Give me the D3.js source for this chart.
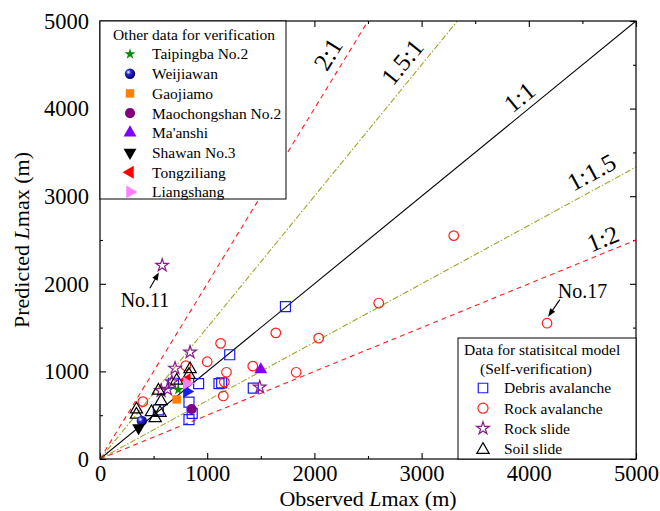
<!DOCTYPE html>
<html>
<head>
<meta charset="utf-8">
<script src="https://cdn.jsdelivr.net/npm/d3@7"></script>
<style>
  body { margin: 0; background: #fff; }
  svg { font-family: "Liberation Serif", "Times New Roman", serif; }
</style>
</head>
<body>
<svg id="chart"></svg>
<script>
// Statistical model data (self-verification), [observed, predicted] in m
const debrisAvalanche = [[1730,1740],[1210,1190],[920,860],[1110,860],[1135,870],[1430,810],
                         [830,650],[860,520],[830,450],[685,865],[545,560]];
const rockAvalanche = [[3300,2550],[2600,1780],[4170,1550],[1640,1440],[2040,1380],[1125,1320],
                       [1000,1110],[1425,1060],[1180,990],[1830,990],[1160,880],[1150,720],
                       [800,1065],[400,655]];
const rockSlide = [[580,2210],[840,1220],[1490,820],[700,1035],[670,880],[630,795],[570,780]];
const soilSlide = [[840,1040],[830,975],[715,910],[545,795],[570,675],[340,580],[340,520],
                   [480,550],[560,540],[515,480]];

// Other data for verification
const otherNames = ["Taipingba No.2","Weijiawan","Gaojiamo","Maochongshan No.2",
                    "Ma'anshi","Shawan No.3","Tongziliang","Liangshang"];
const otherObs  = [730, 390, 715, 855, 1500, 360, 810, 810];
const otherPred = [790, 435, 680, 570, 1020, 355, 905, 865];
const extraBlue = [[810, 770]];

const ratioSlopes = [2, 1.5, 1, 1/1.5, 0.5];
const ratioLabels = ["2:1", "1.5:1", "1:1", "1:1.5", "1:2"];

const axisTicks = [0, 1000, 2000, 3000, 4000, 5000];
const minorTicks = [500, 1500, 2500, 3500, 4500];

const svg = d3.select("#chart").attr("width", 660).attr("height", 511);

const margin = { top: 21, right: 24, bottom: 52, left: 100 },
      width = 660 - margin.left - margin.right,
      height = 511 - margin.top - margin.bottom;

const x = d3.scaleLinear().domain([0, 5000]).range([0, width]);
const y = d3.scaleLinear().domain([0, 5000]).range([height, 0]);

const defs = svg.append("defs");
defs.append("clipPath").attr("id", "plot-clip")
    .append("rect").attr("width", width).attr("height", height);
const grad = defs.append("radialGradient").attr("id", "sphere")
    .attr("cx", "35%").attr("cy", "35%").attr("r", "65%");
grad.append("stop").attr("offset", "0%").attr("stop-color", "#ffffff");
grad.append("stop").attr("offset", "35%").attr("stop-color", "#2a2ad8");
grad.append("stop").attr("offset", "100%").attr("stop-color", "#00006a");

const chart = svg.append("g").attr("transform", `translate(${margin.left},${margin.top})`);

// Axes with inward ticks
function styleAxis(g) {
    g.select(".domain").remove();
    g.selectAll("line").attr("stroke", "#000").attr("stroke-width", 1.1);
    g.selectAll("text").attr("font-size", 22.5).attr("fill", "#000")
        .attr("font-family", "Liberation Serif, Times New Roman, serif");
}

chart.append("g").attr("transform", `translate(0,${height})`)
    .call(d3.axisBottom(x).tickValues(axisTicks).tickSize(-6).tickPadding(6).tickFormat(d3.format("d")))
    .call(styleAxis);
chart.append("g").attr("transform", `translate(0,${height})`)
    .call(d3.axisBottom(x).tickValues(minorTicks).tickSize(-3).tickFormat(""))
    .call(styleAxis);
chart.append("g")
    .call(d3.axisLeft(y).tickValues(axisTicks).tickSize(-6).tickPadding(11).tickFormat(d3.format("d")))
    .call(styleAxis);
chart.append("g")
    .call(d3.axisLeft(y).tickValues(minorTicks).tickSize(-3).tickFormat(""))
    .call(styleAxis);
// mirrored ticks on top and right
chart.append("g").call(d3.axisTop(x).tickValues(axisTicks).tickSize(-6).tickFormat("")).call(styleAxis);
chart.append("g").call(d3.axisTop(x).tickValues(minorTicks).tickSize(-3).tickFormat("")).call(styleAxis);
chart.append("g").attr("transform", `translate(${width},0)`)
    .call(d3.axisRight(y).tickValues(axisTicks).tickSize(-6).tickFormat("")).call(styleAxis);
chart.append("g").attr("transform", `translate(${width},0)`)
    .call(d3.axisRight(y).tickValues(minorTicks).tickSize(-3).tickFormat("")).call(styleAxis);

// Reference ratio lines
const lineStyles = [
    { color: "#ff2020", dash: "5,4" },
    { color: "#a3a326", dash: "6,2,1.5,2" },
    { color: "#000000", dash: null },
    { color: "#a3a326", dash: "6,2,1.5,2" },
    { color: "#ff2020", dash: "5,4" }
];
const lines = chart.append("g").attr("clip-path", "url(#plot-clip)");
ratioSlopes.forEach((k, i) => {
    const xe = Math.min(5000, 5000 / k);
    lines.append("line")
        .attr("x1", x(0)).attr("y1", y(0))
        .attr("x2", x(xe)).attr("y2", y(k * xe))
        .attr("stroke", lineStyles[i].color)
        .attr("stroke-width", 1.1)
        .attr("stroke-dasharray", lineStyles[i].dash);
});

// Ratio labels: placed along each line with a perpendicular offset
const labelAlong = [2260, 2940, 4000, 4660, 4740]; // observed value along the line
const labelOffset = [17, 17, 15, 17, 14];
ratioSlopes.forEach((k, i) => {
    const px = x(labelAlong[i]), py = y(k * labelAlong[i]);
    const ang = Math.atan2(y(k * 1000) - y(0), x(1000) - x(0));
    const ox = Math.sin(ang) * labelOffset[i], oy = -Math.cos(ang) * labelOffset[i];
    chart.append("text")
        .attr("transform", `translate(${px + ox},${py + oy}) rotate(${ang * 180 / Math.PI})`)
        .attr("text-anchor", "middle").attr("dy", "0.35em")
        .attr("font-size", 25).text(ratioLabels[i]);
});

// Statistical data
const sym = (type, size) => d3.symbol().type(type).size(size)();
const pts = chart.append("g");
pts.selectAll(".debris").data(debrisAvalanche).join("path")
    .attr("d", sym(d3.symbolSquare, 100))
    .attr("transform", d => `translate(${x(d[0])},${y(d[1])})`)
    .attr("fill", "none").attr("stroke", "#1a1aff").attr("stroke-width", 1.2);
pts.selectAll(".rockav").data(rockAvalanche).join("circle")
    .attr("cx", d => x(d[0])).attr("cy", d => y(d[1])).attr("r", 4.8)
    .attr("fill", "none").attr("stroke", "#ff2020").attr("stroke-width", 1.2);
pts.selectAll(".rockslide").data(rockSlide).join("path")
    .attr("d", sym(d3.symbolStar, 50))
    .attr("transform", d => `translate(${x(d[0])},${y(d[1])})`)
    .attr("fill", "none").attr("stroke", "#8a1a8a").attr("stroke-width", 1.2);
pts.selectAll(".soil").data(soilSlide).join("path")
    .attr("d", sym(d3.symbolTriangle, 66))
    .attr("transform", d => `translate(${x(d[0])},${y(d[1]) + 1.2})`)
    .attr("fill", "none").attr("stroke", "#000").attr("stroke-width", 1.2);

// Other verification data
const otherStyle = [
    { type: d3.symbolStar, size: 38, fill: "#0a8a0a", rot: 0 },
    { type: d3.symbolCircle, size: 85, fill: "url(#sphere)", rot: 0 },
    { type: d3.symbolSquare, size: 72, fill: "#ff8000", rot: 0 },
    { type: d3.symbolCircle, size: 80, fill: "#800080", rot: 0 },
    { type: d3.symbolTriangle, size: 72, fill: "#8000ff", rot: 0 },
    { type: d3.symbolTriangle, size: 72, fill: "#000000", rot: 180 },
    { type: d3.symbolTriangle, size: 72, fill: "#ff0000", rot: -90 },
    { type: d3.symbolTriangle, size: 72, fill: "#ff80ff", rot: 90 }
];
pts.selectAll(".extra").data(extraBlue).join("path")
    .attr("d", sym(d3.symbolTriangle, 72))
    .attr("transform", d => `translate(${x(d[0])},${y(d[1])}) rotate(90)`)
    .attr("fill", "#1a1aff");
otherNames.forEach((n, i) => {
    const s = otherStyle[i];
    pts.append("path")
        .attr("d", sym(s.type, s.size))
        .attr("transform", `translate(${x(otherObs[i])},${y(otherPred[i])}) rotate(${s.rot})`)
        .attr("fill", s.fill);
});

// Annotations
function arrow(x1, y1, x2, y2) {
    const ang = Math.atan2(y(y2) - y(y1), x(x2) - x(x1));
    const hx = x(x2), hy = y(y2), L = 8, W = 3;
    chart.append("line").attr("x1", x(x1)).attr("y1", y(y1))
        .attr("x2", hx - Math.cos(ang) * L * 0.8).attr("y2", hy - Math.sin(ang) * L * 0.8)
        .attr("stroke", "#000").attr("stroke-width", 1.1);
    chart.append("path").attr("fill", "#000")
        .attr("d", `M${hx},${hy} L${hx - Math.cos(ang) * L - Math.sin(ang) * W},${hy - Math.sin(ang) * L + Math.cos(ang) * W}
                    L${hx - Math.cos(ang) * L + Math.sin(ang) * W},${hy - Math.sin(ang) * L - Math.cos(ang) * W} Z`);
}
chart.append("text").attr("x", x(420)).attr("y", y(1730)).attr("text-anchor", "middle")
    .attr("font-size", 20).text("No.11");
arrow(465, 1950, 550, 2130);
chart.append("text").attr("x", x(4270)).attr("y", y(1840))
    .attr("font-size", 20).text("No.17");
arrow(4290, 1820, 4180, 1625);

// Frame
chart.append("rect").attr("width", width).attr("height", height)
    .attr("fill", "none").attr("stroke", "#000").attr("stroke-width", 1.2);

// Legend: other data
const leg1 = chart.append("g");
leg1.append("rect").attr("x", 0).attr("y", 0).attr("width", 186).attr("height", 178)
    .attr("fill", "#fff").attr("stroke", "#000").attr("stroke-width", 1);
leg1.append("text").attr("x", 94).attr("y", 19).attr("text-anchor", "middle")
    .attr("font-size", 15.5).text("Other data for verification");
otherNames.forEach((n, i) => {
    const s = otherStyle[i], cy = 33 + i * 19.7;
    leg1.append("path")
        .attr("d", sym(s.type, s.size))
        .attr("transform", `translate(30,${cy}) rotate(${s.rot})`)
        .attr("fill", s.fill);
    leg1.append("text").attr("x", 52).attr("y", cy).attr("dy", "0.35em")
        .attr("font-size", 15.5).text(n);
});

// Legend: statistical model
const leg2 = chart.append("g").attr("transform", `translate(${width - 178},${height - 121})`);
leg2.append("rect").attr("width", 178).attr("height", 121)
    .attr("fill", "#fff").attr("stroke", "#000").attr("stroke-width", 1);
leg2.append("text").attr("x", 6).attr("y", 17).attr("font-size", 15.5).text("Data for statisitcal model");
leg2.append("text").attr("x", 22).attr("y", 36).attr("font-size", 15.5).text("(Self-verification)");
const leg2Items = ["Debris avalanche", "Rock avalanche", "Rock slide", "Soil slide"];
leg2Items.forEach((n, i) => {
    const cy = 50 + i * 20.2, cx = 25;
    let m;
    if (i === 0) m = leg2.append("path").attr("d", sym(d3.symbolSquare, 90)).attr("stroke", "#1a1aff");
    if (i === 1) m = leg2.append("path").attr("d", sym(d3.symbolCircle, 80)).attr("stroke", "#ff2020");
    if (i === 2) m = leg2.append("path").attr("d", sym(d3.symbolStar, 50)).attr("stroke", "#8a1a8a");
    if (i === 3) m = leg2.append("path").attr("d", sym(d3.symbolTriangle, 66)).attr("stroke", "#000");
    m.attr("transform", `translate(${cx},${cy + (i === 3 ? 1.2 : 0)})`)
        .attr("fill", "none").attr("stroke-width", 1.2);
    leg2.append("text").attr("x", 46).attr("y", cy).attr("dy", "0.35em")
        .attr("font-size", 15.5).text(n);
});

// Axis titles
const xt = svg.append("text").attr("x", margin.left + width / 2).attr("y", 506)
    .attr("text-anchor", "middle").attr("font-size", 22);
xt.append("tspan").text("Observed ");
xt.append("tspan").attr("font-style", "italic").text("L");
xt.append("tspan").text("max");
xt.append("tspan").text(" (m)");

const yt = svg.append("text")
    .attr("transform", `translate(29,${margin.top + height / 2}) rotate(-90)`)
    .attr("text-anchor", "middle").attr("font-size", 22);
yt.append("tspan").text("Predicted ");
yt.append("tspan").attr("font-style", "italic").text("L");
yt.append("tspan").text("max");
yt.append("tspan").text(" (m)");
</script>
</body>
</html>
